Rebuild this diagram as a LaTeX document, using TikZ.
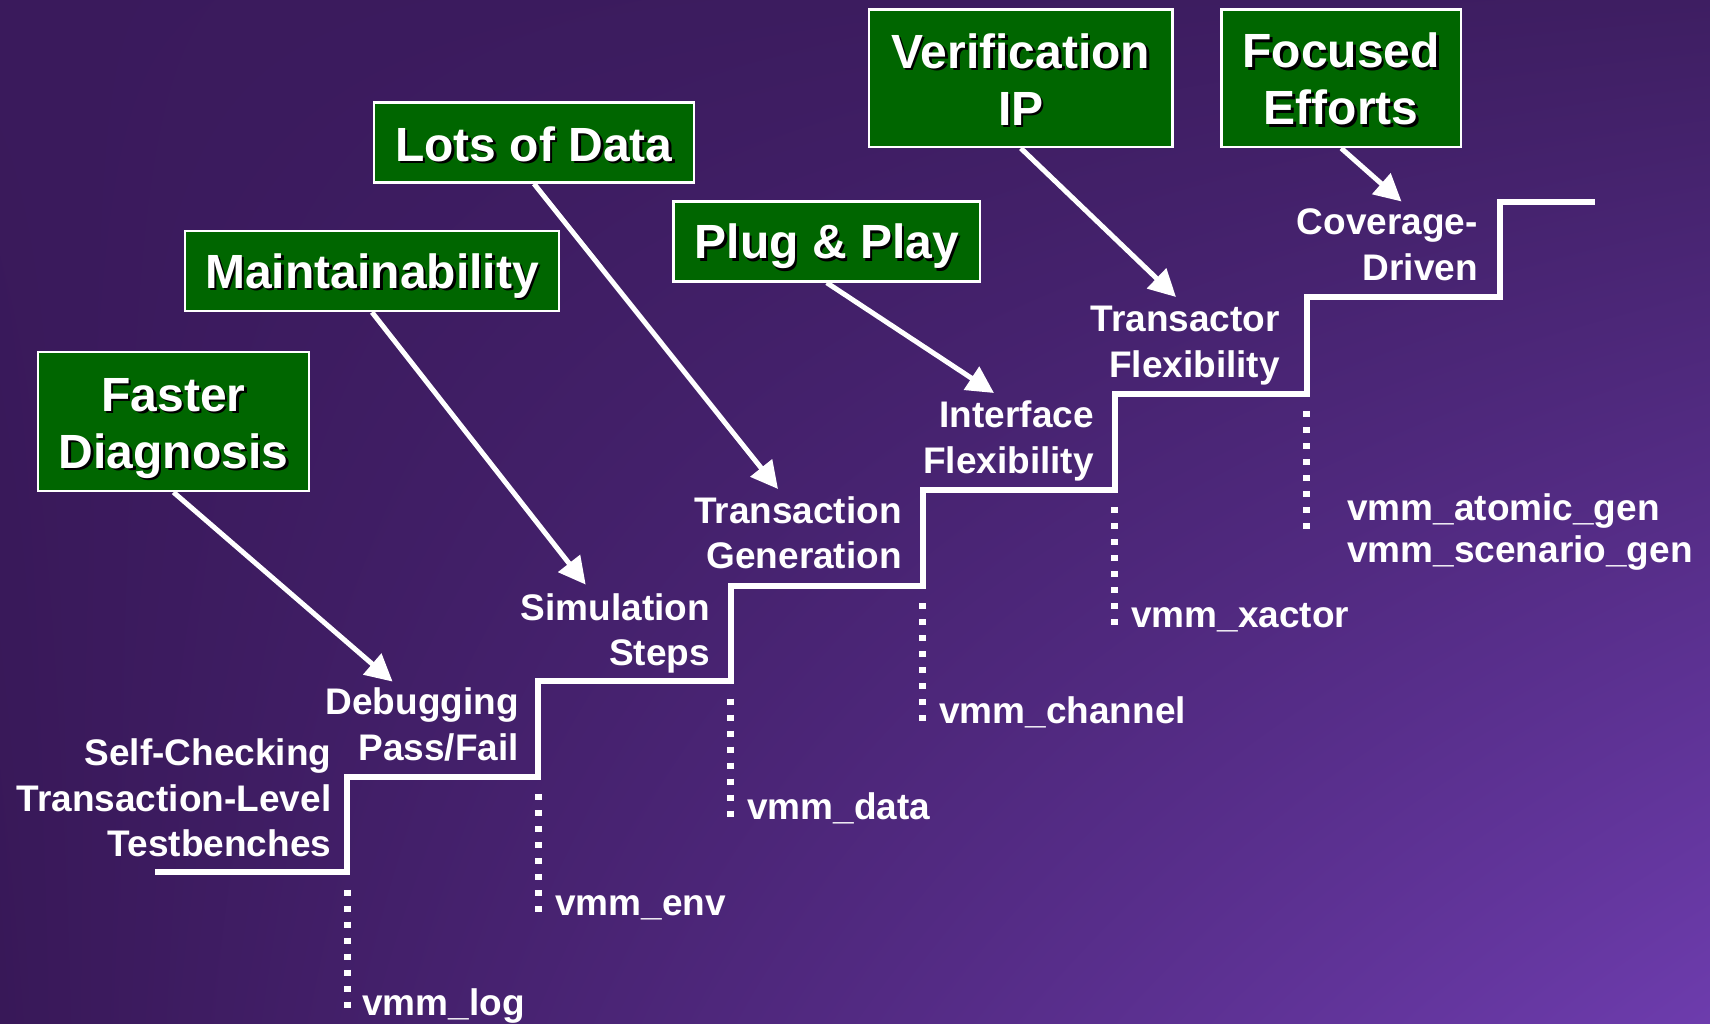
\documentclass[tikz,border=0pt]{standalone}
\usepackage{fontspec}
\setmainfont{Liberation Sans}
\usetikzlibrary{arrows.meta,shadings}
\definecolor{bgUL}{HTML}{3A1A5C}
\definecolor{bgUR}{HTML}{3E1E62}
\definecolor{bgLL}{HTML}{381858}
\definecolor{bgLR}{HTML}{6D3CAD}
\definecolor{boxgreen}{HTML}{006600}
\newcommand{\shd}[1]{\rlap{\kern2.5pt\raisebox{-2.5pt}{\textcolor{black}{#1}}}#1}
\tikzset{
  greenbox/.style={draw=white, line width=2.5pt, fill=boxgreen, inner sep=0pt},
  boxtext/.style={text=white, font=\fontsize{48}{57}\selectfont\bfseries, align=center, inner sep=0pt},
  steplabel/.style={text=white, font=\fontsize{37}{45.5}\selectfont\bfseries, align=right, inner sep=0pt, anchor=east},
  vmmlabel/.style={text=white, font=\fontsize{37}{42}\selectfont\bfseries, inner sep=0pt},
  stair/.style={draw=white, line width=6pt, line join=miter},
  dotline/.style={draw=white, line width=7pt, dash pattern=on 6pt off 10pt},
  pointer/.style={draw=white, line width=5pt, -{Triangle[length=27pt,width=27pt]}},
}
\begin{document}
\begin{tikzpicture}[x=1pt,y=-1pt]
\useasboundingbox (0,0) rectangle (1710,1023);
\fill[bgUL!60!bgLR] (0,0) rectangle (1710,1023);
\shade[upper left=bgUL, upper right=bgUR, lower left=bgLL, lower right=bgLR] (0,0) rectangle (1710,1023);

% staircase
\draw[stair] (155,872) -- (347,872) -- (347,776.5) -- (538,776.5) -- (538,681) -- (730.5,681) -- (730.5,585.5) -- (922.5,585.5) -- (922.5,489.5) -- (1114.5,489.5) -- (1114.5,393.7) -- (1306.5,393.7) -- (1306.5,296.7) -- (1499.5,296.7) -- (1499.5,201.5) -- (1595,201.5);

% dotted drops
\draw[dotline] (347,889.5) -- (347,1007.5);
\draw[dotline] (538,794) -- (538,912);
\draw[dotline] (730.5,698.5) -- (730.5,816.5);
\draw[dotline] (922.5,603) -- (922.5,721);
\draw[dotline] (1114.5,507) -- (1114.5,625);
\draw[dotline] (1306.5,411) -- (1306.5,529);

% step labels
\node[steplabel] (l0) at (331.5,798) {Self-Checking\\Transaction-Level\\Testbenches};
\node[steplabel] (l1) at (519,724.5) {Debugging\\Pass/Fail};
\node[steplabel] (l2) at (710,633.5) {Simulation\\Steps};
\node[steplabel] (l3) at (902,532.8) {Transaction\\Generation};
\node[steplabel] (l4) at (1094,440.7) {Interface\\Flexibility};
\node[steplabel] (l5) at (1280,345.5) {Transactor\\Flexibility};
\node[steplabel] (l6) at (1478,245) {Coverage-\\Driven};

% vmm labels
\node[vmmlabel, anchor=base west] (v1) at (362,1015) {vmm\_log};
\node[vmmlabel, anchor=base west] (v2) at (555,915) {vmm\_env};
\node[vmmlabel, anchor=base west] (v3) at (747,819) {vmm\_data};
\node[vmmlabel, anchor=base west] (v4) at (939,723) {vmm\_channel};
\node[vmmlabel, anchor=base west] (v5) at (1131,627) {vmm\_xactor};
\node[vmmlabel, anchor=west, align=left] (v6) at (1347,532) {vmm\_atomic\_gen\\vmm\_scenario\_gen};

% green boxes
\node[greenbox, minimum width=271pt, minimum height=139pt] (fdbox) at (173.5,421.5) {};
\node[boxtext] (fdtxt) at (173.5,429.5) {\shd{Faster}\\\shd{Diagnosis}};
\node[greenbox, minimum width=374pt, minimum height=80pt] (mbox) at (372,271) {};
\node[boxtext] (mtxt) at (372,277.2) {\shd{Maintainability}};
\node[greenbox, minimum width=320pt, minimum height=80pt] (ldbox) at (534,142.5) {};
\node[boxtext] (ldtxt) at (534,145.3) {\shd{Lots of Data}};
\node[greenbox, minimum width=306.5pt, minimum height=80pt] (ppbox) at (826.8,241.5) {};
\node[boxtext] (pptxt) at (826.8,247.9) {\shd{Plug \& Play}};
\node[greenbox, minimum width=303.5pt, minimum height=137.5pt] (vipbox) at (1020.8,78.2) {};
\node[boxtext] (viptxt) at (1020.8,80.5) {\shd{Verification}\\\shd{IP}};
\node[greenbox, minimum width=239.5pt, minimum height=137.5pt] (febox) at (1341.2,78.2) {};
\node[boxtext] (fetxt) at (1341.2,80.5) {\shd{Focused}\\\shd{Efforts}};

% arrow tips
\coordinate (t1) at (392.6,681.6);
\coordinate (t2) at (585.7,584.6);
\coordinate (t3) at (778,489);
\coordinate (t4) at (994,393);
\coordinate (t5) at (1176,297);
\coordinate (t6) at (1401.5,201.5);

\draw[pointer] (fdbox.south) -- (t1);
\draw[pointer] (mbox.south) -- (t2);
\draw[pointer] (ldbox.south) -- (t3);
\draw[pointer] (ppbox.south) -- (t4);
\draw[pointer] (vipbox.south) -- (t5);
\draw[pointer] (febox.south) -- (t6);
\end{tikzpicture}
\end{document}
